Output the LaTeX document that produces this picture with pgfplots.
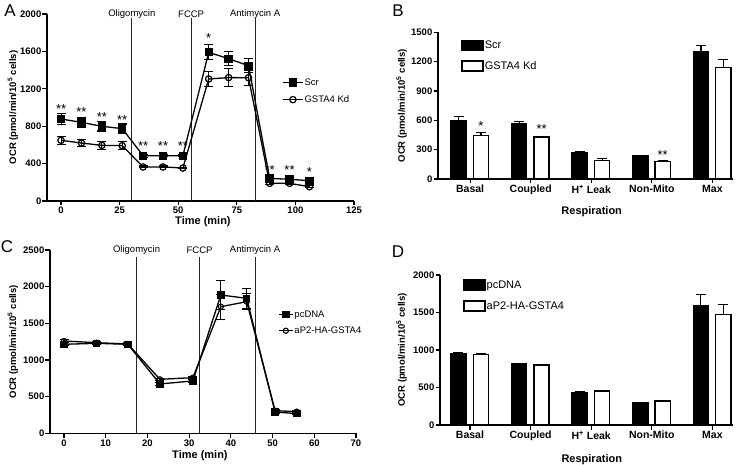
\documentclass[border=0pt]{standalone}
\usepackage{fontspec}
\setmainfont{Liberation Sans}
\usepackage{pgfplots}
\pgfplotsset{compat=1.18}
\pgfplotsset{
  prism/.style={
    scale only axis, axis lines=left, axis line style={-, line width=1.4pt},
    tick align=outside, major tick length=4.5pt, tick style={line width=1.2pt, black},
    tick label style={font=\bfseries\fontsize{9.5}{10}\selectfont},
    yticklabel style={inner sep=1pt}, xticklabel style={inner sep=1.5pt},
    /pgf/number format/assume math mode=true, /pgf/number format/1000 sep={},
    xlabel style={font=\bfseries\fontsize{11}{12}\selectfont},
    ylabel style={font=\bfseries\fontsize{9.5}{10}\selectfont},
    ylabel={OCR (pmol/min/10\textsuperscript{5} cells)},
    clip=false, legend cell align=left,
    legend style={draw=none, fill=none, anchor=north west, inner sep=0pt,
      font=\fontsize{9.5}{10}\selectfont,
      nodes={inner sep=1pt, text height=7pt, text depth=2pt}, row sep=6pt},
  },
  eb/.style={error bars/.cd, y dir=both, y explicit,
    error bar style={line width=1.1pt, solid}, error mark options={rotate=90, line width=1.1pt, mark size=4.5pt}},
  ebu/.style={error bars/.cd, y dir=plus, y explicit,
    error bar style={line width=1.2pt}, error mark options={rotate=90, line width=1.2pt, mark size=5pt}},
  stars/.style={draw=none, mark=none, forget plot, nodes near coords, point meta=explicit symbolic,
    every node near coord/.append style={anchor=center, inner sep=0pt, font=\fontsize{13}{13}\selectfont}},
  inj/.style={black!85, line width=1pt, mark=none, forget plot},
  barleg/.style={legend image code/.code={\draw[##1, line width=1.5pt] (0pt,-5pt) rectangle (21pt,5pt);},
    legend style={font=\fontsize{11}{12}\selectfont, nodes={inner sep=1pt, text height=8pt, text depth=2pt}}},
}
\begin{document}
\begin{tikzpicture}
\path[use as bounding box] (0,0) rectangle (745pt,-465pt);
\node[font=\fontsize{17}{17}\selectfont] at (10pt,-11pt) {A};
\node[font=\fontsize{17}{17}\selectfont] at (398pt,-11pt) {B};
\node[font=\fontsize{17}{17}\selectfont] at (7pt,-247pt) {C};
\node[font=\fontsize{17}{17}\selectfont] at (398pt,-252pt) {D};

% ---- A: seahorse trace, knockdown
\begin{axis}[prism, at={(47pt,-201pt)}, anchor=south west, width=307pt, height=187pt,
  xmin=-6, xmax=125, ymin=0, ymax=2000, xtick={0,25,...,125}, ytick={0,400,...,2000},
  xlabel={Time (min)},
  xlabel style={at={(axis description cs:0.508,-0.11)}, anchor=center},
  ylabel style={at={(axis description cs:-0.111,0.5)}, anchor=center},
  legend style={at={(axis cs:94.3,1327)}},
  legend image code/.code={\draw[#1, mark repeat=2, mark phase=2] plot coordinates {(0pt,0pt) (10pt,0pt) (20pt,0pt)};}]
\addplot[inj] coordinates {(30.2,0) (30.2,1954)};
\addplot[inj] coordinates {(55.5,0) (55.5,1954)};
\addplot[inj] coordinates {(82.8,0) (82.8,1954)};
\node[font=\fontsize{9.5}{10}\selectfont] at (axis cs:30.2,2000) {Oligomycin};
\node[font=\fontsize{9.5}{10}\selectfont] at (axis cs:55.5,2000) {FCCP};
\node[font=\fontsize{9.5}{10}\selectfont] at (axis cs:82.8,2000) {Antimycin A};
\addplot[black, line width=1.3pt, mark=square*, mark size=3.5pt, mark options={fill=black}, eb] coordinates {
 (0,877) +- (0,60) (8.7,841) +- (0,55) (17.4,799) +- (0,50) (26.1,774) +- (0,50)
 (35,485) +- (0,15) (43.5,485) +- (0,12) (52,485) +- (0,12)
 (63,1590) +- (0,80) (71.5,1522) +- (0,75) (80,1447) +- (0,75)
 (89,242) +- (0,20) (97.5,232) +- (0,15) (106,217) +- (0,15)};
\addplot[black, line width=1.3pt, mark=o, mark size=3.2pt, mark options={fill=white, line width=1.2pt}, eb] coordinates {
 (0,649) +- (0,45) (8.7,620) +- (0,40) (17.4,595) +- (0,40) (26.1,592) +- (0,40)
 (35,364) +- (0,10) (43.5,364) +- (0,10) (52,353) +- (0,10)
 (63,1305) +- (0,82) (71.5,1320) +- (0,100) (80,1318) +- (0,80)
 (89,189) +- (0,10) (97.5,189) +- (0,10) (106,153) +- (0,10)};
\addplot[stars] coordinates {(0,982)[**] (8.7,954)[**] (17.4,893)[**] (26.1,868)[**]
 (35,583)[**] (43.5,583)[**] (52,583)[**] (63,1738)[*] (89,334)[**] (97.5,334)[**] (106,305)[*]};
\legend{Scr,GSTA4 Kd}
\end{axis}

% ---- B: respiration parameters, knockdown
\begin{axis}[prism, barleg, at={(438pt,-179pt)}, anchor=south west, width=295pt, height=146.7pt,
  xmin=-0.53, xmax=4.34, ymin=0, ymax=1500, ytick={0,300,...,1500},
  xtick={0,...,4}, xticklabels={Basal,Coupled,H\textsuperscript{+} Leak,Non-Mito,Max},
  xticklabel style={font=\bfseries\fontsize{10.5}{11}\selectfont},
  xlabel={Respiration},
  xlabel style={at={(axis description cs:0.521,-0.225)}, anchor=center},
  ylabel style={at={(axis description cs:-0.123,0.5)}, anchor=center},
  legend style={at={(axis cs:-0.149,1426)}, row sep=8.5pt}]
\addplot[ybar, bar width=0.25, bar shift=0pt, fill=black, draw=black, line width=1.5pt, ebu] coordinates {
 (-0.19,600) +- (0,40) (0.81,566) +- (0,20) (1.81,265) +- (0,20) (2.81,239) +- (0,5) (3.81,1299) +- (0,70)};
\addplot[ybar, bar width=0.25, bar shift=0pt, fill=white, draw=black, line width=1.5pt, ebu] coordinates {
 (0.18,443) +- (0,35) (1.18,429) +- (0,8) (2.18,191) +- (0,22) (3.18,181) +- (0,10) (4.18,1142) +- (0,78)};
\addplot[stars] coordinates {(0.18,544)[*] (1.18,510)[**] (3.18,244)[**]};
\legend{Scr,GSTA4 Kd}
\end{axis}

% ---- C: seahorse trace, overexpression
\begin{axis}[prism, at={(50pt,-433.3pt)}, anchor=south west, width=306pt, height=183.3pt,
  xmin=-3.36, xmax=70, ymin=0, ymax=2500, xtick={0,10,...,70}, ytick={0,500,...,2500},
  xlabel={Time (min)},
  xlabel style={at={(axis description cs:0.49,-0.12)}, anchor=center},
  ylabel style={at={(axis description cs:-0.121,0.5)}, anchor=center},
  legend style={at={(axis cs:51.3,1695)}, row sep=5pt},
  legend image code/.code={\draw[#1, mark repeat=2, mark phase=2] plot coordinates {(0pt,0pt) (7pt,0pt) (14pt,0pt)};}]
\addplot[inj] coordinates {(17.4,0) (17.4,2409)};
\addplot[inj] coordinates {(32.5,0) (32.5,2409)};
\addplot[inj] coordinates {(45.8,0) (45.8,2409)};
\node[font=\fontsize{9.5}{10}\selectfont] at (axis cs:17.4,2500) {Oligomycin};
\node[font=\fontsize{9.5}{10}\selectfont] at (axis cs:32.5,2500) {FCCP};
\node[font=\fontsize{9.5}{10}\selectfont] at (axis cs:45.8,2500) {Antimycin A};
\addplot[black, line width=1.3pt, mark=square*, mark size=3.1pt, mark options={fill=black}, eb] coordinates {
 (0,1214) +- (0,20) (7.8,1227) +- (0,20) (15.3,1214) +- (0,15) (23,673) +- (0,20) (30.9,714) +- (0,20)
 (37.6,1886) +- (0,196) (43.8,1841) +- (0,136) (50.6,291) +- (0,15) (55.8,268) +- (0,15)};
\addplot[black, line width=1.3pt, mark=o, mark size=2.6pt, mark options={fill=white, line width=1.1pt}, eb] coordinates {
 (0,1259) +- (0,15) (7.8,1236) +- (0,15) (15.3,1218) +- (0,15) (23,736) +- (0,15) (30.9,759) +- (0,15)
 (37.6,1727) +- (0,170) (43.8,1795) +- (0,110) (50.6,309) +- (0,15) (55.8,295) +- (0,15)};
\legend{pcDNA,aP2-HA-GSTA4}
\end{axis}

% ---- D: respiration parameters, overexpression
\begin{axis}[prism, barleg, at={(440pt,-425pt)}, anchor=south west, width=293pt, height=150pt,
  xmin=-0.495, xmax=4.34, ymin=0, ymax=2000, ytick={0,500,...,2000},
  xtick={0,...,4}, xticklabels={Basal,Coupled,H\textsuperscript{+} Leak,Non-Mito,Max},
  xticklabel style={font=\bfseries\fontsize{10.5}{11}\selectfont},
  xlabel={Respiration},
  xlabel style={at={(axis description cs:0.518,-0.233)}, anchor=center},
  ylabel style={at={(axis description cs:-0.131,0.5)}, anchor=center},
  legend style={at={(axis cs:-0.116,1947)}, row sep=9pt}]
\addplot[ybar, bar width=0.25, bar shift=0pt, fill=black, draw=black, line width=1.5pt, ebu] coordinates {
 (-0.19,956) +- (0,10) (0.81,818) +- (0,5) (1.81,436) +- (0,8) (2.81,298) +- (0,4) (3.81,1591) +- (0,151)};
\addplot[ybar, bar width=0.25, bar shift=0pt, fill=white, draw=black, line width=1.5pt, ebu] coordinates {
 (0.18,942) +- (0,10) (1.18,800) +- (0,5) (2.18,453) +- (0,6) (3.18,320) +- (0,4) (4.18,1476) +- (0,133)};
\legend{pcDNA,aP2-HA-GSTA4}
\end{axis}
\end{tikzpicture}
\end{document}
